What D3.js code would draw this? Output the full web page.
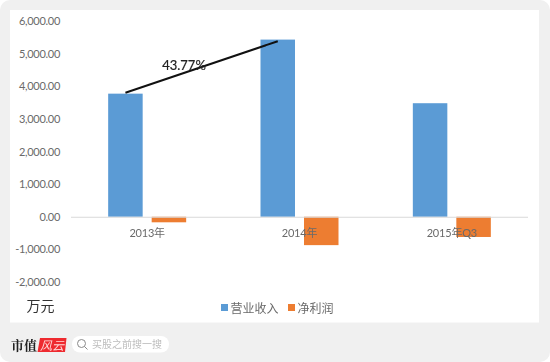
<!DOCTYPE html>
<html>
<head>
<meta charset="utf-8">
<script src="https://cdn.jsdelivr.net/npm/d3@7"></script>
<style>
  html, body { margin: 0; padding: 0; background: #fff; }
  svg { display: block; filter: blur(0.35px); }
  text { font-family: Lato, "Noto Sans CJK SC", sans-serif; }
</style>
</head>
<body>
<script>
const categories = ['2013年', '2014年', '2015年Q3']
const seriesNames = ['营业收入', '净利润']
const revenue = [3773, 5430, 3480]
const profit = [-170, -870, -620]
const yTicks = [-2000, -1000, 0, 1000, 2000, 3000, 4000, 5000, 6000]
const colors = ['#5b9bd5', '#ed7d31']
// 2013 到 2014 的增长线
const growthLine = [3800, 5380]
const growthLabel = '43.77%'

const width = 550
const height = 362
const svg = d3.select('body').append('svg').attr('width', width).attr('height', height)

// 背景
svg.append('rect').attr('width', width).attr('height', height).attr('rx', 10).attr('fill', '#f0f0f0')
svg.append('rect').attr('x', 10).attr('y', 10).attr('width', 529).attr('height', 312.5).attr('fill', '#fff')

const x = d3.scaleBand().domain(categories).range([71, 528])
const y = d3.scaleLinear().domain([-2000, 6000]).range([282, 21])
const barW = 34.5
const gap = 9

// y轴
const minusFormat = d3.formatLocale({ decimal: '.', thousands: ',', grouping: [3], currency: ['', ''], minus: '-' }).format(',.2f')
const yAxis = svg.append('g')
  .attr('transform', 'translate(60,0)')
  .call(d3.axisLeft(y).tickValues(yTicks).tickFormat(minusFormat).tickSize(0).tickPadding(0))
yAxis.select('.domain').remove()
yAxis.selectAll('text')
  .attr('font-size', 11)
  .attr('letter-spacing', -0.3)
  .attr('fill', '#6a6a6a')
  .style('font-family', 'Lato, "Noto Sans CJK SC", sans-serif')

// 柱子
const barX = (i, s) => x(categories[i]) + x.bandwidth() / 2 + (s === 0 ? -barW - gap / 2 : gap / 2)
const drawBars = (values, s) => {
  svg.append('g').selectAll('rect')
    .data(values)
    .enter()
    .append('rect')
    .attr('x', (d, i) => barX(i, s))
    .attr('y', (d) => Math.min(y(d), y(0)))
    .attr('width', barW)
    .attr('height', (d) => Math.abs(y(d) - y(0)))
    .attr('fill', colors[s])
}
drawBars(revenue, 0)
drawBars(profit, 1)

// x轴线
svg.append('line')
  .attr('x1', x.range()[0]).attr('x2', x.range()[1])
  .attr('y1', y(0) + 0.5).attr('y2', y(0) + 0.5)
  .attr('stroke', '#d9d9d9')

// x轴文字
svg.append('g').selectAll('text')
  .data(categories)
  .enter()
  .append('text')
  .attr('x', (d) => x(d) + x.bandwidth() / 2)
  .attr('y', y(0) + 20.5)
  .attr('text-anchor', 'middle')
  .attr('font-size', 11)
  .attr('letter-spacing', -0.2)
  .attr('fill', '#6a6a6a')
  .text((d) => d)

// 增长线
svg.append('line')
  .attr('x1', barX(0, 0) + barW / 2).attr('y1', y(growthLine[0]))
  .attr('x2', barX(1, 0) + barW / 2).attr('y2', y(growthLine[1]))
  .attr('stroke', '#111')
  .attr('stroke-width', 2)
svg.append('text')
  .attr('x', 184).attr('y', 70)
  .attr('text-anchor', 'middle')
  .attr('font-size', 13)
  .attr('fill', '#222')
  .attr('stroke', '#222')
  .attr('stroke-width', 0.2)
  .text(growthLabel)

// 单位
svg.append('text')
  .attr('x', 26.5).attr('y', 311)
  .attr('font-size', 14)
  .attr('fill', '#333')
  .text('万元')

// 图例
const legendX = [221, 288]
seriesNames.forEach((name, i) => {
  svg.append('rect').attr('x', legendX[i]).attr('y', 304).attr('width', 7).attr('height', 7).attr('fill', colors[i])
  svg.append('text')
    .attr('x', legendX[i] + 9.5).attr('y', 312.5)
    .attr('font-size', 12)
    .attr('fill', '#6a6a6a')
    .text(name)
})

// 底部标识
svg.append('text')
  .attr('x', 11).attr('y', 350)
  .attr('font-size', 13)
  .attr('font-weight', 700)
  .attr('fill', '#222')
  .style('font-family', '"Noto Serif CJK SC", "Noto Sans CJK SC", serif')
  .text('市值')
svg.append('path').attr('d', 'M40,338 H66.5 L65,352 H37.5 Z').attr('fill', '#ee2a2f')
svg.append('text')
  .attr('x', 52).attr('y', 349.5)
  .attr('text-anchor', 'middle')
  .attr('font-size', 12)
  .attr('font-style', 'italic')
  .attr('fill', '#ffd9d9')
  .text('风云')
svg.append('rect').attr('x', 72).attr('y', 336).attr('width', 97).attr('height', 16.5).attr('rx', 8).attr('fill', '#fff')
svg.append('circle').attr('cx', 81.5).attr('cy', 343.5).attr('r', 4).attr('fill', 'none').attr('stroke', '#8a8a8a').attr('stroke-width', 1)
svg.append('line').attr('x1', 84.5).attr('y1', 346.5).attr('x2', 87.5).attr('y2', 349.5).attr('stroke', '#8a8a8a').attr('stroke-width', 1)
svg.append('text')
  .attr('x', 92).attr('y', 348)
  .attr('font-size', 10)
  .attr('fill', '#bcbcbc')
  .text('买股之前搜一搜')
</script>
</body>
</html>
